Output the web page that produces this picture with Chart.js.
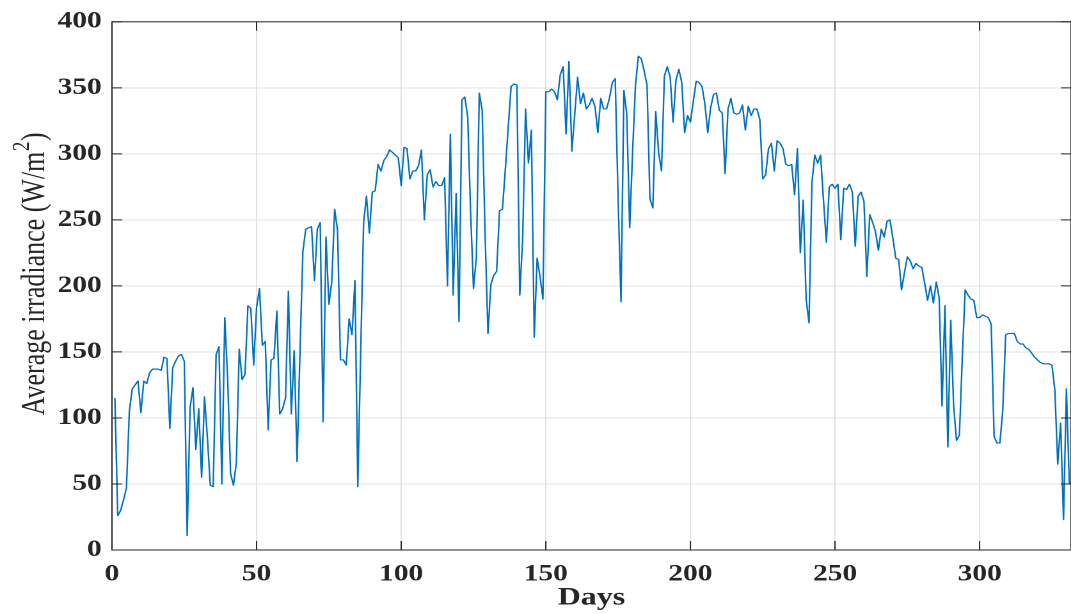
<!DOCTYPE html>
<html>
<head>
<meta charset="utf-8">
<script src="https://cdn.jsdelivr.net/npm/chart.js@4/dist/chart.umd.min.js"></script>
<style>
  html, body { margin: 0; padding: 0; background: #ffffff; overflow: hidden; }
  /* The figure is laid out on a narrower canvas and widened to the full window */
  #figure { width: 837px; height: 614px; transform: scaleX(1.2796); transform-origin: 0 0; }
  #chart { display: block; width: 837px; height: 614px; }
</style>
</head>
<body>
<div id="figure"><canvas id="chart" width="837" height="614"></canvas></div>
<script>
// Daily average irradiance (W/m²), starting on day 1
const firstDay = 1;
const irradiance = [
  115, 26, 30, 38, 47, 105, 122, 125, 128, 104,
  128, 126, 134, 137, 137, 137, 136, 146, 145, 92,
  138, 143, 147, 148, 143, 11, 108, 123, 76, 107,
  55, 116, 85, 49, 48, 148, 154, 50, 176, 130,
  58, 49, 66, 152, 129, 133, 185, 183, 140, 184,
  198, 155, 158, 91, 144, 145, 181, 103, 107, 115,
  196, 103, 151, 67, 150, 226, 243, 244, 245, 204,
  243, 248, 97, 237, 186, 203, 258, 242, 144, 144,
  140, 175, 163, 204, 48, 150, 248, 268, 240, 271,
  272, 292, 287, 295, 298, 303, 301, 299, 297, 276,
  305, 304, 281, 287, 287, 291, 303, 250, 284, 288,
  275, 279, 276, 276, 282, 200, 315, 193, 270, 173,
  341, 343, 328, 256, 198, 222, 346, 333, 240, 164,
  201, 208, 211, 257, 258, 288, 320, 351, 353, 352,
  193, 236, 334, 293, 318, 161, 221, 207, 190, 347,
  347, 349, 347, 341, 360, 366, 315, 370, 302, 330,
  358, 338, 346, 334, 337, 342, 336, 316, 342, 334,
  334, 342, 354, 357, 266, 188, 348, 330, 244, 301,
  352, 374, 372, 363, 352, 266, 259, 332, 301, 287,
  359, 366, 358, 324, 356, 364, 354, 316, 329, 324,
  340, 355, 354, 351, 338, 316, 335, 345, 346, 333,
  331, 285, 334, 342, 331, 330, 331, 337, 318, 336,
  329, 334, 334, 326, 281, 284, 304, 308, 287, 310,
  308, 304, 292, 291, 292, 269, 304, 225, 265, 190,
  172, 278, 299, 293, 299, 265, 233, 275, 277, 274,
  277, 235, 274, 273, 277, 271, 230, 268, 271, 264,
  207, 254, 248, 241, 227, 243, 237, 249, 250, 236,
  221, 220, 197, 210, 222, 219, 213, 217, 215, 214,
  202, 189, 200, 187, 203, 191, 109, 185, 78, 174,
  109, 83, 87, 145, 197, 193, 190, 189, 176, 176,
  178, 177, 176, 171, 86, 81, 81, 106, 163, 164,
  164, 164, 158, 156, 156, 153, 152, 149, 146, 144,
  142, 141, 141, 141, 140, 121, 65, 96, 23, 122,
  50
];

// Axis ranges and tick labels
const dayRange = [0, 331.6];
const dayTicks = [0, 50, 100, 150, 200, 250, 300];
const irradianceRange = [0, 400];
const irradianceTicks = [0, 50, 100, 150, 200, 250, 300, 350, 400];

const xTitle = 'Days';
// y-axis title pieces: main text, superscript exponent, closing bracket
const yTitleParts = ['Average irradiance (W/m', '2', ')'];

const serif = '"Liberation Serif", "Times New Roman", serif';
const ink = '#262626';
const gridColor = '#e2e2e2';
const lineColor = '#0072BD';

const points = irradiance.map((v, i) => ({ x: firstDay + i, y: v }));

// Box around the plot area with inward tick marks on all four sides
const axesBox = {
  id: 'axesBox',
  afterDraw(chart) {
    const { ctx, chartArea: a, scales: { x, y } } = chart;
    ctx.save();
    ctx.strokeStyle = ink;
    ctx.lineWidth = 1;
    ctx.beginPath();
    x.ticks.forEach(t => {
      const px = x.getPixelForValue(t.value);
      ctx.moveTo(px, a.bottom); ctx.lineTo(px, a.bottom - 9);
      ctx.moveTo(px, a.top); ctx.lineTo(px, a.top + 9);
    });
    y.ticks.forEach(t => {
      const py = y.getPixelForValue(t.value);
      ctx.moveTo(a.left, py); ctx.lineTo(a.left + 8, py);
      ctx.moveTo(a.right, py); ctx.lineTo(a.right - 8, py);
    });
    ctx.stroke();
    ctx.strokeRect(a.left, a.top, a.right - a.left, a.bottom - a.top);
    ctx.restore();
  }
};

// Rotated y-axis title with a raised exponent on the unit
const yAxisTitle = {
  id: 'yAxisTitle',
  afterDraw(chart) {
    const { ctx, chartArea: a } = chart;
    const mainFont = '26px ' + serif;
    const supFont = '19px ' + serif;
    ctx.save();
    ctx.fillStyle = ink;
    ctx.textBaseline = 'middle';
    ctx.textAlign = 'left';
    ctx.font = mainFont;
    const w0 = ctx.measureText(yTitleParts[0]).width;
    const w2 = ctx.measureText(yTitleParts[2]).width;
    ctx.font = supFont;
    const w1 = ctx.measureText(yTitleParts[1]).width + 1;
    const total = w0 + w1 + w2;
    const cy = (a.top + a.bottom) / 2 - 12;
    ctx.translate(27.6, cy);
    ctx.rotate(-Math.PI / 2);
    let pos = -total / 2;
    ctx.font = mainFont;
    ctx.fillText(yTitleParts[0], pos, 0);
    pos += w0;
    ctx.font = supFont;
    ctx.fillText(yTitleParts[1], pos + 0.5, -10);
    pos += w1;
    ctx.font = mainFont;
    ctx.fillText(yTitleParts[2], pos, 0);
    ctx.restore();
  }
};

new Chart(document.getElementById('chart'), {
  type: 'line',
  data: {
    datasets: [{
      data: points,
      borderColor: lineColor,
      borderWidth: 1.2,
      borderJoinStyle: 'round',
      pointRadius: 0,
      tension: 0,
      fill: false
    }]
  },
  options: {
    responsive: false,
    animation: false,
    devicePixelRatio: 2,
    layout: { padding: { top: 18, right: 0, bottom: 0, left: 0 } },
    plugins: { legend: { display: false }, tooltip: { enabled: false } },
    scales: {
      x: {
        type: 'linear',
        min: dayRange[0],
        max: dayRange[1],
        afterBuildTicks: s => { s.ticks = dayTicks.map(v => ({ value: v })); },
        afterFit: s => { s.height = 64; },
        grid: { color: gridColor, lineWidth: 1, drawTicks: false },
        border: { display: false },
        ticks: {
          padding: 11,
          maxRotation: 0,
          color: ink,
          font: { family: serif, size: 23, weight: 'bold' }
        },
        title: {
          display: true,
          text: xTitle,
          color: ink,
          padding: { top: 0, bottom: 1 },
          font: { family: serif, size: 25, weight: 'bold', lineHeight: 1.2 }
        }
      },
      y: {
        type: 'linear',
        min: irradianceRange[0],
        max: irradianceRange[1],
        afterBuildTicks: s => { s.ticks = irradianceTicks.map(v => ({ value: v })); },
        afterFit: s => { s.width = 87.5; },
        grid: { color: gridColor, lineWidth: 1, drawTicks: false },
        border: { display: false },
        ticks: {
          padding: 8,
          color: ink,
          font: { family: serif, size: 23, weight: 'bold' }
        },
        title: { display: false }
      }
    }
  },
  plugins: [axesBox, yAxisTitle]
});
</script>
</body>
</html>
